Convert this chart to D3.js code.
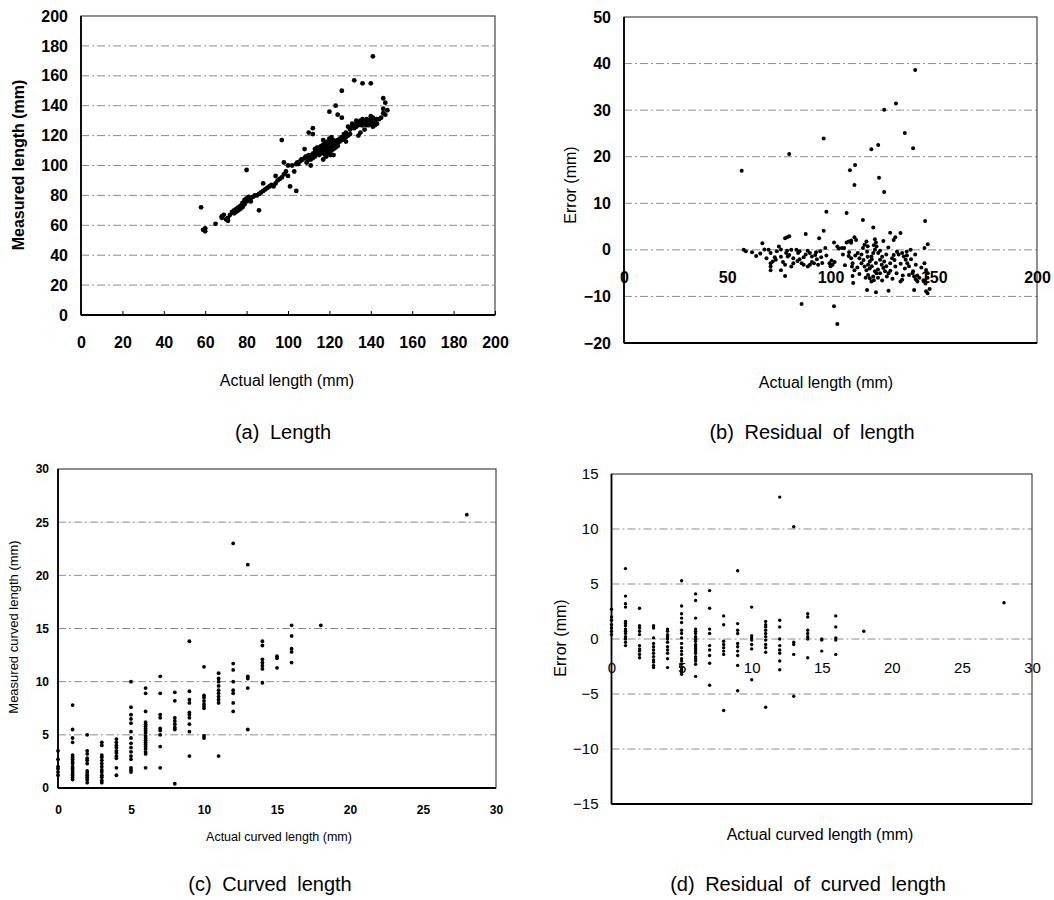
<!DOCTYPE html>
<html><head><meta charset="utf-8">
<script src="https://cdn.jsdelivr.net/npm/d3@7"></script>
<style>body{margin:0;background:#fff}svg{display:block}</style>
</head><body><svg id="c" width="1054" height="900"></svg>
<script>
// ---------- DATA ----------
// (a) Length: [actual, measured]
const lengthPts = [
[58,72],[59,57],[60,58],[60,56],[65,61],[68,66],[68,65],[69,67],[70,64],[71,65],[71,63],[72,67],[73,69],[74,70],[74,68],[75,71],[75,69],[76,72],[76,70],[77,73],[77,71],[78,75],[78,72],[78,74],[79,77],[79,74],[80,78],[80,76],[80,97],[81,77],[81,79],[82,78],[82,76],[83,79],[84,80],[85,80],[86,70],[86,81],[87,82],[88,88],[88,83],[89,84],[90,85],[91,86],[92,87],[93,86],[94,88],[94,93],[95,90],[96,91],[97,92],[97,117],[98,102],[98,94],[99,96],[100,93],[100,100],[101,86],[102,100],[103,96],[104,83],[104,101],[105,101],[106,103],[107,104],[108,111],[108,105],[109,106],[109,102],[110,122],[110,107],[110,104],[111,104],[111,100],[112,125],[112,121],[112,108],[112,105],[113,109],[113,106],[113,111],
[114,110],[114,108],[114,112],[115,111],[115,109],[115,112],[115,107],[116,110],[116,113],[116,108],[116,111],[117,112],[117,110],[117,117],[117,104],[117,114],[118,111],[118,113],[118,109],[118,115],[118,107],[119,112],[119,110],[119,114],[119,108],[119,116],[120,113],[120,111],[120,116],[120,109],[120,136],[120,118],[121,112],[121,114],[121,110],[121,119],[121,116],[122,113],[122,115],[122,107],[122,111],[122,117],[123,114],[123,116],[123,112],[123,140],[124,115],[124,117],[124,134],[124,113],[125,116],[125,118],[126,117],[126,119],[126,150],[126,132],[127,118],[127,121],[128,119],[128,116],[128,122],[129,120],[129,126],[130,121],[130,124],[131,126],[131,128],[132,127],[132,157],[132,125],[133,128],[133,126],[133,130],[134,129],[134,120],[134,127],[135,128],[135,130],[135,122],[136,127],[136,129],[136,155],[136,131],[137,128],[137,130],[137,124],[138,129],[138,131],[138,127],[139,127],[139,130],[140,128],[140,131],[140,155],[140,133],[141,173],[141,129],[141,132],[141,126],[142,130],[142,127],[143,131],[143,128],[144,131],[145,132],[146,145],[146,138],[146,135],[147,134],[147,142],[148,137],
[114.5,109],[115.5,110],[116.5,112],[117.5,111],[118.5,112],[119.5,113],[120.5,112],[121.5,113],[122.5,114],[116.5,109],[117.5,108],[118.5,110],[119.5,111],[120.5,110],[121.5,111],[119.5,115],[120.5,114],[121.5,115],[122.5,116],[123.5,115],[118.5,106],[120.5,107],[124.5,116],[125.5,117],[126.5,118],[130.5,125],[132.5,126],[134.5,128],[136.5,128],[138.5,130],[139.5,129],[141.5,130],[142.5,131],[135.5,127],[137.5,129],[108.5,106],[110.5,106],[111.5,107],[106.5,104],[104.5,102]
];
// (b) Residual of length: [actual, error]
const residualPts = [
[57,17],[58,0],[59,-0.3],[64,-1.3],[67,1.4],[68,0.1],[70,0],[71,-0.7],[71,-2.9],[71,-3.6],[71,-4.4],[73,-1.6],[73.5,-2.1],[75,0.7],[76,0.1],[76,-4.4],[78,2.5],[79,2.7],[80,2.9],[78,-5.6],[78.5,-0.7],[79.3,-1.4],[80,-1.1],[81,0],[78,-3.2],[81,-3.6],[82,-2.9],[80,20.6],[83.5,0],[84.3,-0.7],[85,-2],[86,-2.9],[86,-11.6],[87,-1.6],[88,3.4],[89,-3.6],[90,-3.2],[90,-0.7],[91,-1.4],[92.6,-1.1],[93.4,-2],[92,-2.9],[94,-3.2],[94.5,2.5],[95.5,-1.6],[96.7,4.1],[96.7,23.9],[97.5,0.4],[98,8.2],[99.5,-2.9],[100.5,-2.3],[101,-3.2],[101.7,1.6],[101.7,-12.1],[103.3,0.7],[103.3,-15.9],[105.5,0.4],[106.6,0.4],[107.8,1.6],[107.8,7.9],[108.8,1.8],[110,2],[108.8,-1.3],[110,-1.8],[110.7,-2.9],[110.4,-3.6],[111.6,-4.4],[109.4,17.1],[111.9,18.2],[111.6,13.9],[111.6,2.7],[112.4,2.1],[110.7,-5.6],[111,-7.1],[113.2,-0.7],[114,-1.8],[115,-2.9],[115.7,0.4],[115.7,6.4],[116.5,1.1],[117.4,1.8],[117.7,-0.4],[116.5,-3.6],[117.4,-4.4],[118.2,-3.2],[119,-2.5],[119.8,-1.4],[120.7,-0.7],[121.5,0],[122.3,0.7],[118.2,-5.4],[119,-6.1],[119.8,-6.8],[120.7,-5.7],[121.5,-4.6],[122.3,-5],[121.5,2.3],[122,1.6],[117.7,-8.6],[122,-9.1],[119.8,21.6],[120.7,4.8],[123.1,22.5],[123.5,15.5],[123.1,-0.7],[124,-2.1],[124.8,-3.2],[125.6,-3.9],[126.4,-4.6],[127.3,-5.7],[128.1,-5],[125.6,1.9],[126,12.4],[126,30.1],[128.1,-8.8],[128.9,-2.9],[128.9,3.7],[129.8,-1.8],[130.6,-1.1],[131.4,-3.6],[132.2,-0.4],[130.6,2.1],[131.4,2.7],[131.7,31.4],[133.9,3.6],[133.9,-6.8],[134.7,-6.4],[134.7,-0.7],[135.5,-1.4],[136.4,-2.1],[137.2,-2.9],[136.9,-0.4],[136,25.1],[138.8,0],[139.7,-5],[138,-5.4],[140.5,-5.7],[141.3,-6.3],[142.1,-6.8],[141.3,-3.2],[140,21.8],[141,38.6],[140.5,-8.6],[145.5,-2.9],[146.3,-4.3],[147.1,-5],[145.5,0.4],[147.1,1.2],[145.8,6.2],[146.3,-8.9],[147,-9.3],
[62,-0.5],[66,-0.8],[69,-1.8],[72,-2.5],[74,-0.3],[76,-1.5],[77,-2.6],[79,-0.2],[82,-1.8],[84,-2.4],[85,-0.3],[87,-3.2],[88,-1.0],[89,-0.2],[91,-2.6],[93,-0.5],[95,-0.3],[96,-2.8],[98,-1.2],[100,-3.5],[102,-2.6],[104,0.3],[106,-1.0],[107,-3.3],[109,-0.5],[110,1.5],[112,-1.2],[113,-3.8],[114,-5.2],[115,-1.0],[116,-2.2],[117,-6.0],[118,-1.5],[118,0.8],[119,-4.0],[120,-2.0],[120,-3.5],[121,-6.5],[121,1.0],[122,-2.8],[123,-4.2],[123,-6.0],[124,-0.2],[124,-5.0],[125,-1.5],[125,-6.6],[126,-2.5],[127,-3.5],[127,-1.0],[128,0.5],[129,-4.5],[130,-6.2],[131,-2.2],[132,-5.0],[133,-1.0],[134,-3.0],[135,-5.5],[136,-4.0],[137,-1.2],[138,-3.5],[139,-2.0],[140,-4.6],[141,-1.0],[142,-5.5],[143,-6.0],[144,-3.8],[145,-6.5],[146,-7.2],[147,-6.0],[148,-8.4]
];
// (c) Curved length: [actual, measured]
const curvedPts = [
[0,3.5],[0,2.7],[0,2.0],[0,1.8],[0,1.5],[0,1.2],
[1,7.8],[1,5.5],[1,4.7],[1,4.3],[1,3.1],[1,2.9],[1,2.7],[1,2.5],[1,2.3],[1,2.0],[1,1.8],[1,1.6],[1,1.4],[1,1.2],[1,1.0],[1,0.8],
[2,5.0],[2,3.5],[2,3.2],[2,2.8],[2,2.6],[2,2.3],[2,1.6],[2,1.4],[2,1.2],[2,1.0],[2,0.8],[2,0.5],
[3,4.3],[3,4.0],[3,3.1],[3,2.9],[3,2.6],[3,2.3],[3,2.0],[3,1.7],[3,1.5],[3,1.2],[3,1.0],[3,0.7],[3,0.5],
[4,4.6],[4,4.3],[4,4.0],[4,3.8],[4,3.5],[4,3.3],[4,3.0],[4,2.8],[4,1.9],[4,1.2],
[5,10.0],[5,7.6],[5,6.9],[5,6.5],[5,6.1],[5,5.3],[5,4.7],[5,4.2],[5,3.8],[5,3.4],[5,3.0],[5,2.7],[5,1.9],[5,1.7],[5,1.5],
[6,9.4],[6,8.9],[6,7.2],[6,6.2],[6,6.0],[6,5.8],[6,5.6],[6,5.4],[6,5.2],[6,4.9],[6,4.7],[6,4.5],[6,4.3],[6,4.1],[6,3.9],[6,3.7],[6,3.4],[6,3.2],[6,1.9],
[7,10.5],[7,8.9],[7,6.9],[7,6.6],[7,5.6],[7,5.4],[7,5.0],[7,3.9],[7,1.9],
[8,9.0],[8,8.2],[8,6.6],[8,6.3],[8,6.0],[8,5.7],[8,5.5],[8,0.4],
[9,13.8],[9,9.1],[9,8.3],[9,8.0],[9,7.1],[9,6.9],[9,6.6],[9,6.0],[9,5.3],[9,3.0],
[10,11.4],[10,8.7],[10,8.5],[10,8.2],[10,7.9],[10,7.7],[10,7.5],[10,4.9],[10,4.7],
[11,10.8],[11,10.3],[11,10.0],[11,9.6],[11,9.2],[11,8.9],[11,8.6],[11,8.3],[11,8.0],[11,3.0],
[12,23.0],[12,11.7],[12,11.1],[12,10.0],[12,9.2],[12,8.9],[12,8.0],[12,7.2],
[13,21.0],[13,10.5],[13,10.3],[13,9.4],[13,5.5],
[14,13.8],[14,13.4],[14,12.1],[14,11.8],[14,11.5],[14,11.2],[14,9.9],
[15,12.4],[15,12.2],[15,11.3],
[16,15.3],[16,14.3],[16,13.1],[16,12.8],[16,11.8],
[18,15.3],[28,25.7]
];
// (d) Residual of curved length: [actual, error]
const curvedResPts = [
[0,2.7],[0,2.0],[0,1.7],[0,1.3],[0,1.0],[0,0.7],[0,0.4],
[1,6.4],[1,3.9],[1,3.2],[1,2.9],[1,1.6],[1,1.4],[1,1.2],[1,0.9],[1,0.7],[1,0.5],[1,0.2],[1,0],[1,-0.3],[1,-0.6],
[2,2.8],[2,1.2],[2,1.0],[2,0.7],[2,0.4],[2,-0.6],[2,-0.9],[2,-1.1],[2,-1.4],[2,-1.7],
[3,1.2],[3,1.0],[3,0.1],[3,-0.4],[3,-0.7],[3,-1.0],[3,-1.3],[3,-1.6],[3,-1.9],[3,-2.1],[3,-2.4],[3,-2.6],
[4,0.9],[4,0.7],[4,0.4],[4,0.2],[4,0],[4,-0.3],[4,-0.7],[4,-1.0],[4,-1.3],[4,-1.8],[4,-2.6],
[5,5.3],[5,3.0],[5,2.3],[5,1.9],[5,1.5],[5,0.8],[5,0.5],[5,0.1],[5,-0.4],[5,-0.8],[5,-1.1],[5,-1.4],[5,-1.8],[5,-2.0],[5,-2.3],[5,-2.6],[5,-2.8],[5,-3.0],[5,-3.2],
[6,4.1],[6,3.5],[6,1.9],[6,0.9],[6,0.7],[6,0.5],[6,0.2],[6,0],[6,-0.2],[6,-0.5],[6,-0.7],[6,-0.9],[6,-1.1],[6,-1.3],[6,-1.6],[6,-1.8],[6,-2.0],[6,-2.3],[6,-3.4],
[7,4.4],[7,2.8],[7,0.9],[7,0.5],[7,-0.6],[7,-1.0],[7,-1.5],[7,-2.2],[7,-4.2],
[8,2.1],[8,1.3],[8,-0.2],[8,-0.5],[8,-0.8],[8,-1.1],[8,-1.4],[8,-6.5],
[9,6.2],[9,1.4],[9,0.8],[9,0.5],[9,-0.4],[9,-0.7],[9,-1.1],[9,-1.5],[9,-2.4],[9,-4.7],
[10,2.9],[10,0.3],[10,0.1],[10,-0.1],[10,-0.5],[10,-0.9],[10,-3.7],
[11,1.6],[11,1.3],[11,1.1],[11,0.8],[11,0.5],[11,0.2],[11,-0.1],[11,-0.5],[11,-0.8],[11,-1.2],[11,-6.2],
[12,12.9],[12,1.7],[12,1.1],[12,0],[12,-0.6],[12,-1.0],[12,-1.3],[12,-2.0],[12,-2.8],
[13,10.2],[13,-0.3],[13,-0.5],[13,-1.4],[13,-5.2],
[14,2.3],[14,2.0],[14,0.8],[14,0.5],[14,0.2],[14,0],[14,-1.7],
[15,0],[15,-0.1],[15,-1.1],
[16,2.1],[16,1.1],[16,0.1],[16,-0.1],[16,-1.4],
[18,0.7],[28,3.3]
];
const ticksA = [0,20,40,60,80,100,120,140,160,180,200];
const ticksBx = [0,50,100,150,200];
const ticksBy = [-20,-10,0,10,20,30,40,50];
const ticksC = [0,5,10,15,20,25,30];
const ticksDy = [-15,-10,-5,0,5,10,15];

// ---------- DRAW ----------
const FONT = '"Liberation Sans", Arial, sans-serif';
const svg = d3.select("#c");
svg.append("rect").attr("width",1054).attr("height",900).attr("fill","#fff");

function panel(o){
  const x = d3.scaleLinear().domain(o.xd).range([o.L,o.R]);
  const y = d3.scaleLinear().domain(o.yd).range([o.B,o.T]);
  const g = svg.append("g");
  g.selectAll("line.grid").data(o.grid).join("line").attr("class","grid")
    .attr("x1",o.L).attr("x2",o.R).attr("y1",d=>y(d)).attr("y2",d=>y(d))
    .attr("stroke","#8c8c8c").attr("stroke-width",1).attr("stroke-dasharray","8,3,2,3");
  g.append("rect").attr("x",o.L).attr("y",o.T).attr("width",o.R-o.L).attr("height",o.B-o.T)
    .attr("fill","none").attr("stroke","#333").attr("stroke-width",1.1);
  g.append("line").attr("x1",o.L).attr("x2",o.L).attr("y1",o.T).attr("y2",o.B).attr("stroke","#000").attr("stroke-width",1.8);
  g.append("line").attr("x1",o.L).attr("x2",o.R).attr("y1",o.B).attr("y2",o.B).attr("stroke","#000").attr("stroke-width",1.8);

  const ya = d3.axisLeft(y).tickValues(o.yt).tickSize(0).tickPadding(o.ypad);
  const yg = g.append("g").attr("transform",`translate(${o.L},0)`).call(ya);
  yg.select(".domain").remove();
  yg.attr("font-family",FONT).attr("font-size",o.tf).attr("font-weight",o.tw);

  const xAxisY = o.x0line ? y(0) : o.B;
  const xa = d3.axisBottom(x).tickValues(o.xt).tickSizeInner(o.xtick||0).tickSizeOuter(0).tickPadding(o.xpad);
  const xg = g.append("g").attr("transform",`translate(0,${xAxisY})`).call(xa);
  xg.select(".domain").remove();
  xg.attr("font-family",FONT).attr("font-size",o.tf).attr("font-weight",o.tw);
  xg.selectAll(".tick line").attr("stroke","#000");
  if(o.xtick) xg.selectAll(".tick text").attr("y",o.xpad);

  g.selectAll("circle").data(o.pts).join("circle")
    .attr("cx",d=>x(d[0])).attr("cy",d=>y(d[1])).attr("r",o.r).attr("fill","#000");

  g.append("text").attr("transform",`translate(${o.ytx},${o.yty}) rotate(-90)`)
    .attr("text-anchor","middle").attr("font-family",FONT).attr("font-size",o.ytf).attr("font-weight",o.ytw||"normal").text(o.ytitle);
  g.append("text").attr("x",o.xtx).attr("y",o.xty).attr("text-anchor","middle")
    .attr("font-family",FONT).attr("font-size",o.xtf).attr("font-weight",o.xtw||"normal").text(o.xtitle);
  g.append("text").attr("x",o.cx).attr("y",o.cy).attr("text-anchor","middle")
    .attr("font-family",FONT).attr("font-size",20).attr("word-spacing","5px").text(o.caption);
}

panel({L:81,R:495,T:16,B:315,xd:[0,200],yd:[0,200],xt:ticksA,yt:ticksA,grid:[20,40,60,80,100,120,140,160,180],
  pts:lengthPts,r:2.4,tf:16,tw:"bold",ypad:13,xpad:22,xtick:-4,
  ytitle:"Measured length (mm)",ytx:24,yty:165,ytf:16,ytw:"bold",
  xtitle:"Actual length (mm)",xtx:287,xty:386,xtf:16,
  caption:"(a) Length",cx:283,cy:439});

panel({L:624,R:1037,T:17,B:343,xd:[0,200],yd:[-20,50],xt:ticksBx,yt:ticksBy,grid:[-10,0,10,20,30,40],
  pts:residualPts,r:2.0,tf:16,tw:"bold",ypad:13,xpad:22,x0line:true,
  ytitle:"Error (mm)",ytx:576,yty:185,ytf:16,
  xtitle:"Actual length (mm)",xtx:826,xty:388,xtf:16,
  caption:"(b) Residual of length",cx:812,cy:439});

panel({L:58,R:496,T:469,B:788,xd:[0,30],yd:[0,30],xt:ticksC,yt:ticksC,grid:[5,10,15,20,25],
  pts:curvedPts,r:1.9,tf:12,tw:"bold",ypad:9,xpad:17,
  ytitle:"Measured curved length (mm)",ytx:18,yty:627,ytf:13,
  xtitle:"Actual curved length (mm)",xtx:279,xty:841,xtf:12.5,
  caption:"(c) Curved length",cx:270,cy:891});

panel({L:611.5,R:1032,T:474,B:804,xd:[0,30],yd:[-15,15],xt:ticksC,yt:ticksDy,grid:[-10,-5,0,5,10],
  pts:curvedResPts,r:1.7,tf:15,tw:"normal",ypad:13,xpad:23,x0line:true,
  ytitle:"Error (mm)",ytx:566,yty:638,ytf:16,
  xtitle:"Actual curved length (mm)",xtx:820,xty:840,xtf:16,
  caption:"(d) Residual of curved length",cx:808,cy:891});
</script></body></html>
